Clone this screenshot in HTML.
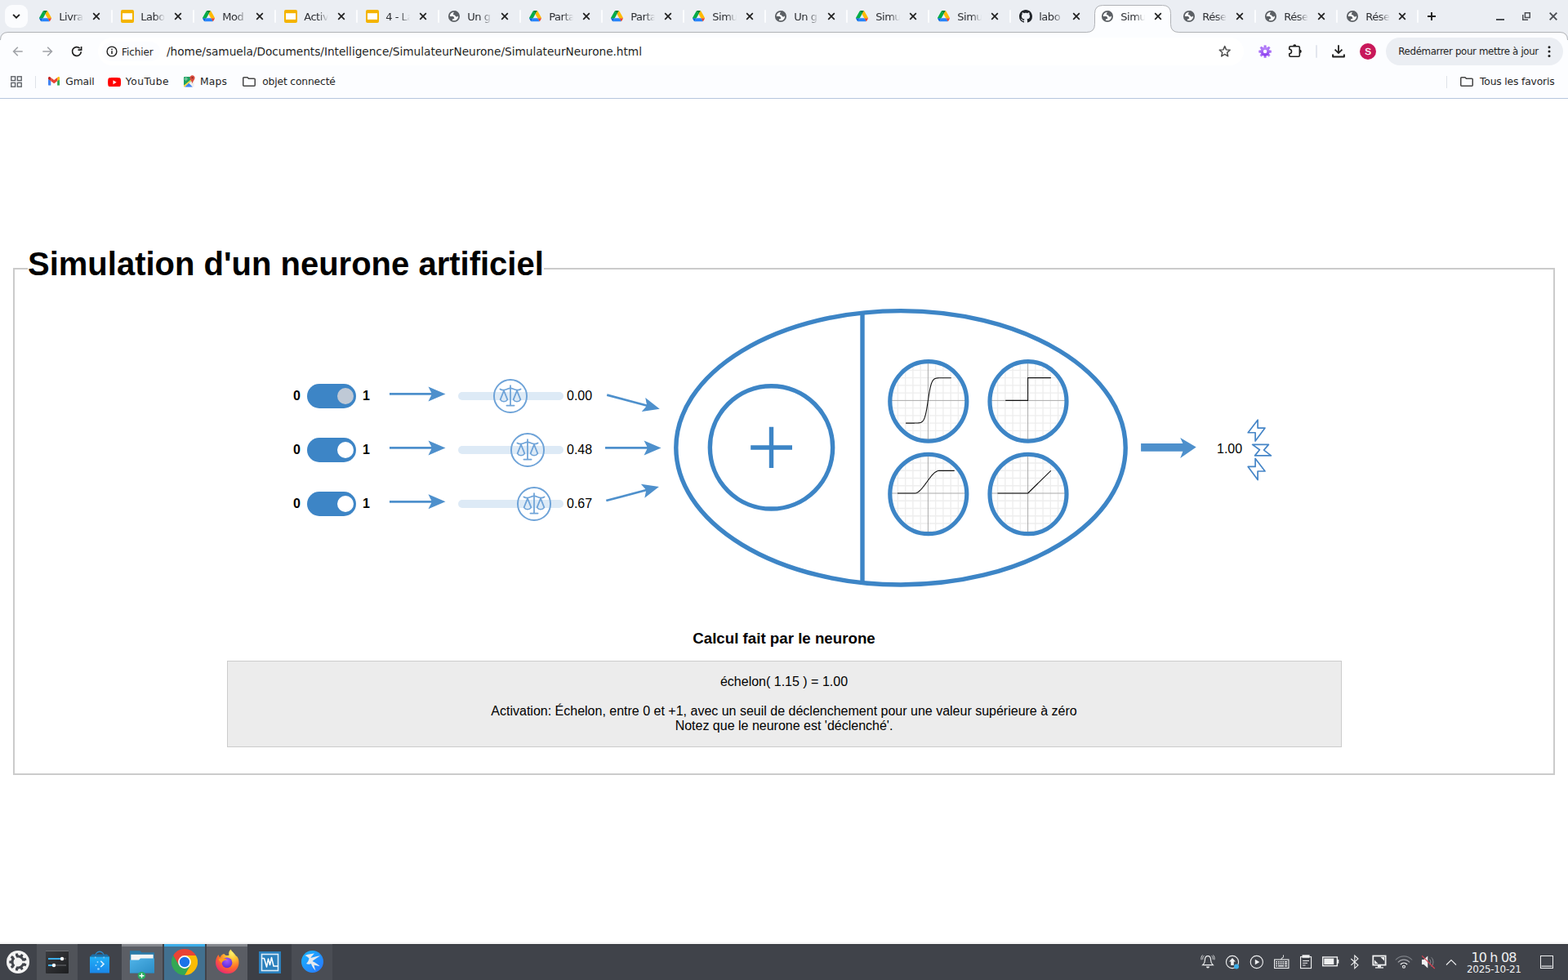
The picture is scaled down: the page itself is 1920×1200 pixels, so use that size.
<!DOCTYPE html>
<html lang="fr">
<head>
<meta charset="utf-8">
<title>Simulateur de neurone</title>
<style>
*{box-sizing:border-box;margin:0;padding:0}
html,body{width:1920px;height:1200px;overflow:hidden;background:#fff}
body{position:relative;font-family:"Liberation Sans",sans-serif;font-size:16px;color:#000}
.abs{position:absolute}
.ui{font-family:"DejaVu Sans","Liberation Sans",sans-serif;color:#1f1f1f;white-space:nowrap}

/* ---------- browser chrome ---------- */
#tabstrip{position:absolute;left:0;top:0;width:1920px;height:40px;background:#ebeef3}
#toolbar{position:absolute;left:0;top:40px;width:1920px;height:44px;background:#fcfdff}
#bookmarks{position:absolute;left:0;top:84px;width:1920px;height:36px;background:#fcfdff}
#chromeline{position:absolute;left:0;top:120px;width:1920px;height:1px;background:#b6c6de}
.tabt{position:absolute;top:12.3px;width:30px;height:18px;overflow:hidden;font-size:13px;line-height:18px;letter-spacing:-0.45px;color:#2d2f33;-webkit-mask-image:linear-gradient(90deg,#000 0,#000 58%,transparent 100%);mask-image:linear-gradient(90deg,#000 0,#000 58%,transparent 100%)}
.bm{position:absolute;top:7.3px;font-size:12.3px;line-height:18px;letter-spacing:-0.15px}

/* ---------- page ---------- */
#fieldset{position:absolute;left:16px;top:328px;width:1888px;height:621px;border:2px solid #cbcbcb}
#legend{position:absolute;left:34px;top:300px;height:46px;width:632px;padding:0;background:#fff;font-weight:bold;font-size:40px;line-height:46px;white-space:nowrap}
#calc-title{position:absolute;left:0;top:771px;width:1920px;text-align:center;font-weight:bold;font-size:18.72px;line-height:22px}
#calc{position:absolute;left:278px;top:809px;width:1365px;height:106px;background:#ececec;border:1px solid #ccc;text-align:center}
#calc p{position:absolute;left:-0.5px;width:100%;line-height:18px;font-size:16px}

/* ---------- diagram ---------- */
.lbl{position:absolute;font-weight:bold;font-size:16px;line-height:18px;white-space:nowrap}
.val{position:absolute;font-size:16px;line-height:18px;white-space:nowrap}
.tog{position:absolute;width:60px;height:30px;border-radius:15px;background:#3d85c6}
.tog span{position:absolute;left:37px;top:5px;width:20px;height:20px;border-radius:50%}
.track{position:absolute;width:129px;height:10px;border-radius:5px;background:#ddeaf6}

/* ---------- taskbar ---------- */
#taskbar{position:absolute;left:0;top:1156px;width:1920px;height:44px;background:#40434a}
</style>
</head>
<body>
<!--CHROME-START-->
<svg width="0" height="0" style="position:absolute"><defs>
<symbol id="i-drive" viewBox="0 0 87.3 78">
<path d="m6.6 66.85 3.85 6.65c.8 1.4 1.95 2.5 3.3 3.3l13.75-23.8h-27.5c0 1.55.4 3.1 1.2 4.5z" fill="#0066da"/>
<path d="m43.65 25-13.75-23.8c-1.35.8-2.5 1.9-3.3 3.3l-25.4 44a9.06 9.06 0 0 0 -1.2 4.5h27.5z" fill="#00ac47"/>
<path d="m73.55 76.8c1.35-.8 2.5-1.9 3.3-3.3l1.6-2.75 7.65-13.25c.8-1.4 1.2-2.95 1.2-4.5h-27.502l5.852 11.5z" fill="#ea4335"/>
<path d="m43.65 25 13.75-23.8c-1.35-.8-2.9-1.2-4.5-1.2h-18.5c-1.6 0-3.15.45-4.5 1.2z" fill="#00832d"/>
<path d="m59.8 53h-32.300l-13.750 23.800c1.350.8 2.900 1.200 4.500 1.200h50.800c1.600 0 3.150-.45 4.500-1.200z" fill="#2684fc"/>
<path d="m73.400 26.500-12.700-22c-.8-1.400-1.950-2.500-3.300-3.300l-13.750 23.800 16.150 28h27.450c0-1.550-.4-3.100-1.200-4.500z" fill="#ffba00"/>
</symbol>
<symbol id="i-slides" viewBox="0 0 16 16">
<rect x="0" y="0" width="16" height="16" rx="2" fill="#f4b400"/>
<rect x="2" y="4.2" width="12" height="7.7" fill="#fff"/>
</symbol>
<symbol id="i-globe" viewBox="0 0 1200 1200">
<circle cx="598" cy="598" r="306" fill="#fcfdff" stroke="#5c6065" stroke-width="92"/>
<path fill="#5c6065" d="M650,262 C600,330 545,400 545,505 L640,520 C670,560 690,605 745,628 C800,640 840,600 872,555 L915,520 C890,380 800,285 650,262 Z"/>
<path fill="#5c6065" d="M305,598 L530,598 C590,618 622,680 612,742 L502,772 L482,895 C400,855 322,760 305,598 Z"/>
</symbol>
<symbol id="i-github" viewBox="0 0 16 16">
<path fill="#1f2328" d="M8 0c4.420 0 8 3.580 8 8a8.013 8.013 0 0 1-5.450 7.590c-.4.080-.55-.17-.55-.38 0-.27.010-1.130.010-2.200 0-.75-.25-1.230-.54-1.480 1.780-.2 3.650-.88 3.650-3.950 0-.88-.31-1.590-.82-2.150.080-.2.360-1.020-.080-2.120 0 0-.67-.22-2.200.82-.64-.18-1.320-.27-2-.27-.68 0-1.360.09-2 .27-1.530-1.030-2.200-.82-2.200-.82-.44 1.100-.16 1.920-.080 2.120-.51.56-.82 1.280-.82 2.150 0 3.060 1.860 3.750 3.640 3.950-.23.2-.44.55-.51 1.070-.46.21-1.610.55-2.330-.66-.15-.24-.6-.83-1.230-.82-.67.010-.27.380.010.530.34.190.73.900.82 1.130.16.450.68 1.310 2.690.94 0 .67.010 1.300.010 1.490 0 .21-.15.450-.55.380A7.995 7.995 0 0 1 0 8c0-4.420 3.580-8 8-8Z"/>
</symbol>
<symbol id="i-x" viewBox="0 0 10 10">
<path d="M1.200 1.200 L8.800 8.800 M8.800 1.200 L1.200 8.800" stroke="#1f1f1f" stroke-width="1.7" fill="none"/>
</symbol>
<symbol id="i-folder" viewBox="0 0 16 12">
<path d="M1.700 0.750 H6 L7.600 2.350 H14.300 Q15.250 2.350 15.250 3.300 V10.300 Q15.250 11.250 14.300 11.250 H1.700 Q0.750 11.250 0.750 10.300 V1.700 Q0.750 0.750 1.700 0.750 Z" fill="none" stroke="#474747" stroke-width="1.5" stroke-linejoin="round"/>
</symbol>
<symbol id="i-gmail" viewBox="52 42 88 66">
<path fill="#4285f4" d="M58 108h14V74L52 59v43c0 3.320 2.690 6 6 6"/>
<path fill="#34a853" d="M120 108h14c3.320 0 6-2.690 6-6V59l-20 15"/>
<path fill="#fbbc04" d="M120 48v26l20-15v-8c0-7.420-8.470-11.650-14.400-7.200"/>
<path fill="#ea4335" d="M72 74V48l24 18 24-18v26L96 92"/>
<path fill="#c5221f" d="M52 51v8l20 15V48l-5.600-4.200c-5.940-4.450-14.400-.22-14.400 7.200"/>
</symbol>
<symbol id="i-youtube" viewBox="0 0 28 20">
<path fill="#ff0000" d="M27.400 3.100c-.3-1.200-1.300-2.200-2.500-2.500C22.700 0 14 0 14 0S5.300 0 3.100.6C1.900.9.9 1.900.6 3.100 0 5.300 0 10 0 10s0 4.700.6 6.900c.3 1.200 1.300 2.200 2.500 2.500C5.300 20 14 20 14 20s8.700 0 10.900-.6c1.200-.3 2.200-1.300 2.500-2.500.6-2.200.6-6.900.6-6.900s0-4.700-.6-6.900z"/>
<path fill="#fff" d="M11.200 14.300 18.500 10l-7.300-4.300z"/>
</symbol>
<symbol id="i-maps" viewBox="0 0 15 15">
<path fill="#f0efed" d="M1 2.500 H13.600 V13.500 Q13.600 14.500 12.600 14.500 H2 Q1 14.500 1 13.500 Z"/>
<path fill="#1da362" d="M1 3 Q1 2 2 2 H9.500 V8 L1 12.800 Z"/>
<path fill="#4285f4" d="M2.200 14.500 L7 9.600 L11.800 14.500 Z"/>
<path fill="#fcd73f" d="M1 12.700 L9.700 5.600 L10.500 6.500 L1.900 14.400 Q1 14.400 1 13.500 Z"/>
<circle cx="3.700" cy="4.700" r="1.300" fill="none" stroke="#fff" stroke-width="0.6"/>
<path fill="#dc4b3e" d="M11.500 0.200 C9.700 0.200 8.400 1.600 8.400 3.300 C8.400 5.600 10.900 7.300 11.500 10.200 C12.100 7.300 14.600 5.600 14.600 3.300 C14.600 1.600 13.300 0.200 11.500 0.200 Z"/>
<circle cx="11.500" cy="3.300" r="1" fill="#7d2b25"/>
</symbol>
</defs></svg>
<div id="tabstrip">
<div class="abs" style="left:6px;top:6px;width:28px;height:28px;border-radius:9px;background:#fbfcfe"></div>
<svg class="abs" style="left:14px;top:14px" width="12" height="12" viewBox="0 0 12 12"><path d="M2.100 3.900 L6 7.700 L9.900 3.900" fill="none" stroke="#1f1f1f" stroke-width="1.9"/></svg>
<svg class="abs" style="left:1320px;top:0" width="140" height="41" viewBox="1320 0 140 41"><path d="M1320,39.500 H1330.500 Q1340.500,39.500 1340.500,29.500 V16.500 Q1340.500,6.500 1350.500,6.500 H1423.500 Q1433.500,6.500 1433.500,16.500 V29.500 Q1433.500,39.500 1443.500,39.500 H1460 V41 H1320 Z" fill="#fcfdff"/><path d="M1320,39.500 H1330.500 Q1340.500,39.500 1340.500,29.500 V16.500 Q1340.500,6.500 1350.500,6.500 H1423.500 Q1433.500,6.500 1433.500,16.500 V29.500 Q1433.500,39.500 1443.500,39.500 H1460" fill="none" stroke="#b0b2b6" stroke-width="1"/></svg>
<svg class="abs" style="left:48.25px;top:13.05px" width="15" height="13.5" ><use href="#i-drive"/></svg>
<div class="ui tabt" style="left:72.2px">Livra</div>
<svg class="abs" style="left:112.90px;top:15.20px" width="10" height="10" ><use href="#i-x"/></svg>
<div class="abs" style="left:135.9px;top:12px;width:2px;height:16px;background:#fbfcfe;border-radius:1px"></div>
<svg class="abs" style="left:148.00px;top:12.00px" width="16" height="16" ><use href="#i-slides"/></svg>
<div class="ui tabt" style="left:172.2px">Labo</div>
<svg class="abs" style="left:212.90px;top:15.20px" width="10" height="10" ><use href="#i-x"/></svg>
<div class="abs" style="left:235.9px;top:12px;width:2px;height:16px;background:#fbfcfe;border-radius:1px"></div>
<svg class="abs" style="left:248.25px;top:13.05px" width="15" height="13.5" ><use href="#i-drive"/></svg>
<div class="ui tabt" style="left:272.2px">Mod</div>
<svg class="abs" style="left:312.90px;top:15.20px" width="10" height="10" ><use href="#i-x"/></svg>
<div class="abs" style="left:335.9px;top:12px;width:2px;height:16px;background:#fbfcfe;border-radius:1px"></div>
<svg class="abs" style="left:348.00px;top:12.00px" width="16" height="16" ><use href="#i-slides"/></svg>
<div class="ui tabt" style="left:372.2px">Activ</div>
<svg class="abs" style="left:412.90px;top:15.20px" width="10" height="10" ><use href="#i-x"/></svg>
<div class="abs" style="left:435.9px;top:12px;width:2px;height:16px;background:#fbfcfe;border-radius:1px"></div>
<svg class="abs" style="left:448.00px;top:12.00px" width="16" height="16" ><use href="#i-slides"/></svg>
<div class="ui tabt" style="left:472.2px">4 - La</div>
<svg class="abs" style="left:512.90px;top:15.20px" width="10" height="10" ><use href="#i-x"/></svg>
<div class="abs" style="left:535.9px;top:12px;width:2px;height:16px;background:#fbfcfe;border-radius:1px"></div>
<svg class="abs" style="left:544.00px;top:8.00px" width="24" height="24" ><use href="#i-globe"/></svg>
<div class="ui tabt" style="left:572.2px">Un g</div>
<svg class="abs" style="left:612.90px;top:15.20px" width="10" height="10" ><use href="#i-x"/></svg>
<div class="abs" style="left:635.9px;top:12px;width:2px;height:16px;background:#fbfcfe;border-radius:1px"></div>
<svg class="abs" style="left:648.25px;top:13.05px" width="15" height="13.5" ><use href="#i-drive"/></svg>
<div class="ui tabt" style="left:672.2px">Parta</div>
<svg class="abs" style="left:712.90px;top:15.20px" width="10" height="10" ><use href="#i-x"/></svg>
<div class="abs" style="left:735.9px;top:12px;width:2px;height:16px;background:#fbfcfe;border-radius:1px"></div>
<svg class="abs" style="left:748.25px;top:13.05px" width="15" height="13.5" ><use href="#i-drive"/></svg>
<div class="ui tabt" style="left:772.2px">Parta</div>
<svg class="abs" style="left:812.90px;top:15.20px" width="10" height="10" ><use href="#i-x"/></svg>
<div class="abs" style="left:835.9px;top:12px;width:2px;height:16px;background:#fbfcfe;border-radius:1px"></div>
<svg class="abs" style="left:848.25px;top:13.05px" width="15" height="13.5" ><use href="#i-drive"/></svg>
<div class="ui tabt" style="left:872.2px">Simu</div>
<svg class="abs" style="left:912.90px;top:15.20px" width="10" height="10" ><use href="#i-x"/></svg>
<div class="abs" style="left:935.9px;top:12px;width:2px;height:16px;background:#fbfcfe;border-radius:1px"></div>
<svg class="abs" style="left:944.00px;top:8.00px" width="24" height="24" ><use href="#i-globe"/></svg>
<div class="ui tabt" style="left:972.2px">Un g</div>
<svg class="abs" style="left:1012.90px;top:15.20px" width="10" height="10" ><use href="#i-x"/></svg>
<div class="abs" style="left:1035.9px;top:12px;width:2px;height:16px;background:#fbfcfe;border-radius:1px"></div>
<svg class="abs" style="left:1048.25px;top:13.05px" width="15" height="13.5" ><use href="#i-drive"/></svg>
<div class="ui tabt" style="left:1072.2px">Simu</div>
<svg class="abs" style="left:1112.90px;top:15.20px" width="10" height="10" ><use href="#i-x"/></svg>
<div class="abs" style="left:1135.9px;top:12px;width:2px;height:16px;background:#fbfcfe;border-radius:1px"></div>
<svg class="abs" style="left:1148.25px;top:13.05px" width="15" height="13.5" ><use href="#i-drive"/></svg>
<div class="ui tabt" style="left:1172.2px">Simu</div>
<svg class="abs" style="left:1212.90px;top:15.20px" width="10" height="10" ><use href="#i-x"/></svg>
<div class="abs" style="left:1235.9px;top:12px;width:2px;height:16px;background:#fbfcfe;border-radius:1px"></div>
<svg class="abs" style="left:1248.00px;top:12.00px" width="16" height="16" ><use href="#i-github"/></svg>
<div class="ui tabt" style="left:1272.2px">labo</div>
<svg class="abs" style="left:1312.90px;top:15.20px" width="10" height="10" ><use href="#i-x"/></svg>
<svg class="abs" style="left:1344.00px;top:8.00px" width="24" height="24" ><use href="#i-globe"/></svg>
<div class="ui tabt" style="left:1372.2px">Simu</div>
<svg class="abs" style="left:1412.90px;top:15.20px" width="10" height="10" ><use href="#i-x"/></svg>
<svg class="abs" style="left:1444.00px;top:8.00px" width="24" height="24" ><use href="#i-globe"/></svg>
<div class="ui tabt" style="left:1472.2px">Rése</div>
<svg class="abs" style="left:1512.90px;top:15.20px" width="10" height="10" ><use href="#i-x"/></svg>
<div class="abs" style="left:1535.9px;top:12px;width:2px;height:16px;background:#fbfcfe;border-radius:1px"></div>
<svg class="abs" style="left:1544.00px;top:8.00px" width="24" height="24" ><use href="#i-globe"/></svg>
<div class="ui tabt" style="left:1572.2px">Rése</div>
<svg class="abs" style="left:1612.90px;top:15.20px" width="10" height="10" ><use href="#i-x"/></svg>
<div class="abs" style="left:1635.9px;top:12px;width:2px;height:16px;background:#fbfcfe;border-radius:1px"></div>
<svg class="abs" style="left:1644.00px;top:8.00px" width="24" height="24" ><use href="#i-globe"/></svg>
<div class="ui tabt" style="left:1672.2px">Rése</div>
<svg class="abs" style="left:1711.90px;top:15.20px" width="10" height="10" ><use href="#i-x"/></svg>
<div class="abs" style="left:1734.8px;top:12px;width:2px;height:16px;background:#fbfcfe;border-radius:1px"></div>
<svg class="abs" style="left:1747px;top:14px" width="12" height="12" viewBox="0 0 12 12"><path d="M6 1 V11 M1 6 H11" stroke="#1f1f1f" stroke-width="1.9" fill="none"/></svg>
<div class="abs" style="left:1832px;top:23px;width:10px;height:2px;background:#4a4d52"></div>
<svg class="abs" style="left:1864px;top:15px" width="10" height="10" viewBox="0 0 10 10"><path d="M3.400 0.750 H9.250 V6.600 H3.400 Z M0.750 3 V9.250 H7" fill="none" stroke="#4a4d52" stroke-width="1.500"/></svg>
<svg class="abs" style="left:1897px;top:15px" width="10" height="10" viewBox="0 0 10 10"><path d="M0.700 0.700 L9.300 9.300 M9.300 0.700 L0.700 9.300" stroke="#4a4d52" stroke-width="1.900" fill="none"/></svg>
</div>
<div id="toolbar">
<svg class="abs" style="left:0;top:-1px" width="1920" height="12" viewBox="0 0 1920 12"><path d="M0,0 H12 Q1,0.500 0,12 Z" fill="#ebeef3"/><path d="M1920,0 H1908 Q1919,0.500 1920,12 Z" fill="#ebeef3"/><path d="M0.500,10 Q0.500,0.500 10,0.500 H1330.500" fill="none" stroke="#b0b2b6"/><path d="M1443.500,0.500 H1910 Q1919.500,0.500 1919.500,10" fill="none" stroke="#b0b2b6"/></svg>
<svg class="abs" style="left:15px;top:16px" width="14" height="14" viewBox="0 0 14 14"><path d="M12.700 7 H2 M6.800 1.800 L1.600 7 L6.800 12.200" fill="none" stroke="#a0a3a8" stroke-width="1.600"/></svg>
<svg class="abs" style="left:51px;top:16px" width="14" height="14" viewBox="0 0 14 14"><path d="M1.300 7 H12 M7.200 1.800 L12.400 7 L7.200 12.200" fill="none" stroke="#a0a3a8" stroke-width="1.600"/></svg>
<svg class="abs" style="left:86px;top:15px" width="16" height="16" viewBox="0 0 16 16"><path d="M13.300 8.200 A5.400 5.400 0 1 1 11.700 4.100" fill="none" stroke="#1f1f1f" stroke-width="1.700"/><path d="M13.600 2 V6.100 H9.500" fill="none" stroke="#1f1f1f" stroke-width="1.700"/></svg>
<div class="abs" style="left:120px;top:6px;width:1403px;height:34px;border-radius:17px;background:#fff"></div>
<div class="abs" style="left:125px;top:11px;width:71px;height:24px;border-radius:12px;background:#fcfdff"></div>
<svg class="abs" style="left:129.900px;top:16px" width="14" height="14" viewBox="0 0 14 14"><circle cx="7" cy="7" r="5.900" fill="none" stroke="#1f1f1f" stroke-width="1.400"/><path d="M7 6.200 V10" stroke="#1f1f1f" stroke-width="1.500"/><circle cx="7" cy="4.300" r="0.900" fill="#1f1f1f"/></svg>
<div class="ui" style="position:absolute;left:149px;top:15.800px;font-size:12px;line-height:16px;letter-spacing:-0.100px">Fichier</div>
<div class="ui" style="position:absolute;left:204px;top:14px;font-size:13.700px;line-height:18px;letter-spacing:-0.022px">/home/samuela/Documents/Intelligence/SimulateurNeurone/SimulateurNeurone.html</div>
<svg class="abs" style="left:1490.700px;top:14.200px" width="17.400" height="17.400" viewBox="0 0 24 24"><path d="M12 3.600 L14.500 9.500 L20.900 10.050 L16.050 14.250 L17.500 20.500 L12 17.200 L6.500 20.500 L7.950 14.250 L3.100 10.050 L9.500 9.500 Z" fill="none" stroke="#4d4d4d" stroke-width="2.050" stroke-linejoin="round"/></svg>
<svg class="abs" style="left:1540.900px;top:14.800px" width="16.200" height="16.200" viewBox="-8.100 -8.100 16.200 16.200"><defs><linearGradient id="gg" x1="0" y1="0" x2="0" y2="1"><stop offset="0" stop-color="#bd90fa"/><stop offset="1" stop-color="#8a3bef"/></linearGradient></defs><g fill="url(#gg)"><rect x="-1.550" y="-7.950" width="3.100" height="4.500" rx="0.700" transform="rotate(0)"/><rect x="-1.550" y="-7.950" width="3.100" height="4.500" rx="0.700" transform="rotate(45)"/><rect x="-1.550" y="-7.950" width="3.100" height="4.500" rx="0.700" transform="rotate(90)"/><rect x="-1.550" y="-7.950" width="3.100" height="4.500" rx="0.700" transform="rotate(135)"/><rect x="-1.550" y="-7.950" width="3.100" height="4.500" rx="0.700" transform="rotate(180)"/><rect x="-1.550" y="-7.950" width="3.100" height="4.500" rx="0.700" transform="rotate(225)"/><rect x="-1.550" y="-7.950" width="3.100" height="4.500" rx="0.700" transform="rotate(270)"/><rect x="-1.550" y="-7.950" width="3.100" height="4.500" rx="0.700" transform="rotate(315)"/><circle r="5.500"/></g><circle r="2.250" fill="#fff"/></svg>
<svg class="abs" style="left:1570px;top:8px" width="30" height="30" viewBox="0 0 30 30"><path d="M8.750,12.200 V10.300 Q8.750,8.750 10.300,8.750 H19.800 Q21.350,8.750 21.350,10.300 V19.700 Q21.350,21.250 19.800,21.250 H10.300 Q8.750,21.250 8.750,19.700 V17.700 C12.400,17.400 12.400,12.500 8.750,12.200 Z" fill="none" stroke="#1f1f1f" stroke-width="1.600" stroke-linejoin="round"/><path d="M13.200,8.500 A2.050,2.300 0 0 1 17.300,8.500 Z M21.500,12.850 A2.300,2.050 0 0 1 21.500,16.950 Z" fill="#1f1f1f"/></svg>
<div class="abs" style="left:1611px;top:15px;width:2px;height:16px;background:#e3e6ee;border-radius:1px"></div>
<svg class="abs" style="left:1631px;top:15px" width="16" height="16" viewBox="0 0 16 16"><path d="M8 0.200 V9.800 M3.600 5.700 L8 10.100 L12.400 5.700" fill="none" stroke="#1f1f1f" stroke-width="1.800"/><path d="M1.100 11.400 V14.600 H14.900 V11.400" fill="none" stroke="#1f1f1f" stroke-width="2" stroke-linejoin="round"/></svg>
<div class="abs" style="left:1665px;top:13px;width:20px;height:20px;border-radius:50%;background:#c8185a;color:#fff;font:11.500px/20px 'Liberation Sans',sans-serif;text-align:center;-webkit-text-stroke:0.350px #fff">S</div>
<div class="abs" style="left:1697px;top:6px;width:217px;height:34px;border-radius:17px;background:#ebeef3"></div>
<div class="ui" style="position:absolute;left:1712.300px;top:14.800px;font-size:11.800px;line-height:16px;letter-spacing:-0.350px">Redémarrer pour mettre à jour</div>
<svg class="abs" style="left:1894px;top:15px" width="6" height="16" viewBox="0 0 6 16"><circle cx="3" cy="2.700" r="1.500" fill="#1f1f1f"/><circle cx="3" cy="8.100" r="1.500" fill="#1f1f1f"/><circle cx="3" cy="13.500" r="1.500" fill="#1f1f1f"/></svg>
</div>
<div id="bookmarks">
<svg class="abs" style="left:13px;top:9px" width="14" height="14" viewBox="0 0 14 14"><g fill="none" stroke="#5f6368" stroke-width="1.400"><rect x="0.800" y="0.800" width="4.800" height="4.800"/><rect x="8.400" y="0.800" width="4.800" height="4.800"/><rect x="0.800" y="8.400" width="4.800" height="4.800"/><rect x="8.400" y="8.400" width="4.800" height="4.800"/></g></svg>
<div class="abs" style="left:42.500px;top:8.500px;width:1px;height:15px;background:#dfe2e8"></div>
<svg class="abs" style="left:58.80px;top:10.40px" width="14.4" height="10.8" ><use href="#i-gmail"/></svg>
<div class="ui bm" style="left:80.300px;letter-spacing:-0.100px">Gmail</div>
<svg class="abs" style="left:131.90px;top:10.70px" width="16.2" height="11.4" ><use href="#i-youtube"/></svg>
<div class="ui bm" style="left:153.800px;letter-spacing:0.480px">YouTube</div>
<svg class="abs" style="left:224.00px;top:7.50px" width="15" height="15" ><use href="#i-maps"/></svg>
<div class="ui bm" style="left:245px;letter-spacing:0.150px">Maps</div>
<svg class="abs" style="left:297.00px;top:9.90px" width="16" height="12" ><use href="#i-folder"/></svg>
<div class="ui bm" style="left:321.200px">objet connecté</div>
<div class="abs" style="left:1770.500px;top:8.500px;width:1px;height:15px;background:#dfe2e8"></div>
<svg class="abs" style="left:1788.00px;top:9.90px" width="16" height="12" ><use href="#i-folder"/></svg>
<div class="ui bm" style="left:1812px">Tous les favoris</div>
</div>
<div id="chromeline"></div>
<!--CHROME-END-->

<!--PAGE-START-->
<div id="fieldset"></div>
<div id="legend">Simulation d'un neurone artificiel</div>
<!--DIAGRAM-->
<div class="lbl" style="left:358.9px;top:475.5px">0</div>
<div class="tog" style="left:376px;top:470px"><span style="background:#bfc9d6"></span></div>
<div class="lbl" style="left:444px;top:475.5px">1</div>
<div class="track" style="left:561px;top:480px"></div>
<div class="val" style="left:694px;top:475.5px">0.00</div>
<div class="lbl" style="left:358.9px;top:541.5px">0</div>
<div class="tog" style="left:376px;top:536px"><span style="background:#ffffff"></span></div>
<div class="lbl" style="left:444px;top:541.5px">1</div>
<div class="track" style="left:561px;top:546px"></div>
<div class="val" style="left:694px;top:541.5px">0.48</div>
<div class="lbl" style="left:358.9px;top:607.5px">0</div>
<div class="tog" style="left:376px;top:602px"><span style="background:#ffffff"></span></div>
<div class="lbl" style="left:444px;top:607.5px">1</div>
<div class="track" style="left:561px;top:612px"></div>
<div class="val" style="left:694px;top:607.5px">0.67</div>
<div class="val" style="left:1490px;top:540.5px">1.00</div>
<svg class="abs" style="left:0;top:0" width="1920" height="1200" viewBox="0 0 1920 1200">
<defs>
<path id="arw" d="M-34.25,-1.4 H17.05 L13.25,-9 L34.25,0 L13.25,9 L17.05,1.4 H-34.25 Z" fill="#4e90cc"/>
<g id="thumb" fill="none" stroke="#6ea3d8" stroke-linecap="round" stroke-linejoin="round"><circle r="20.05" stroke-width="1.95"/><g stroke-width="1.75"><path d="M0,-12.8 V11.5 M-4.6,11.6 H4.6"/><path d="M-12.6,-8.6 C-9.5,-6.6 -6.5,-7.4 -3.5,-8.8 C-1.5,-9.7 1.5,-9.7 3.5,-8.8 C6.5,-7.4 9.5,-6.6 12.6,-8.6"/><path d="M-8,-6.6 L-12.4,4.4 C-10.5,7.4 -5.5,7.4 -3.6,4.4 Z"/><path d="M8,-6.6 L12.4,4.4 C10.5,7.4 5.5,7.4 3.6,4.4 Z"/></g></g>
</defs>
<use href="#arw" transform="translate(511.2,482.45)"/>
<use href="#arw" transform="translate(511.2,548.45)"/>
<use href="#arw" transform="translate(511.2,614.35)"/>
<use href="#arw" transform="translate(775.5,492.2) rotate(14.9) scale(0.975)"/>
<use href="#arw" transform="translate(775.3,548.45)"/>
<use href="#arw" transform="translate(774.6,604.5) rotate(-14.8) scale(0.975)"/>
<use href="#thumb" transform="translate(625,485)"/>
<use href="#thumb" transform="translate(646,551)"/>
<use href="#thumb" transform="translate(654,617)"/>
<g fill="none" stroke="#3d85c6" stroke-width="5.4">
<ellipse cx="1103" cy="548.3" rx="275.2" ry="167.7"/>
<path d="M1056,383.06 V713.54"/>
<circle cx="944.5" cy="547.9" r="75.15"/>
<path d="M919.2,548 H970 M944.5,522.8 V573"/>
</g>
<clipPath id="c1"><ellipse cx="1136.8" cy="491.4" rx="47.0" ry="48.699999999999996"/></clipPath>
<g clip-path="url(#c1)">
<path d="M1080.90,431.4 V551.4 M1076.8,434.90 H1196.8 M1090.15,431.4 V551.4 M1076.8,444.15 H1196.8 M1099.40,431.4 V551.4 M1076.8,453.40 H1196.8 M1108.65,431.4 V551.4 M1076.8,462.65 H1196.8 M1117.90,431.4 V551.4 M1076.8,471.90 H1196.8 M1127.15,431.4 V551.4 M1076.8,481.15 H1196.8 M1145.65,431.4 V551.4 M1076.8,499.65 H1196.8 M1154.90,431.4 V551.4 M1076.8,508.90 H1196.8 M1164.15,431.4 V551.4 M1076.8,518.15 H1196.8 M1173.40,431.4 V551.4 M1076.8,527.40 H1196.8 M1182.65,431.4 V551.4 M1076.8,536.65 H1196.8 M1191.90,431.4 V551.4 M1076.8,545.90 H1196.8 " stroke="#eeeeee" stroke-width="1.4" fill="none"/>
<path d="M1136.40,431.4 V551.4 M1076.8,490.40 H1196.8" stroke="#aaaaaa" stroke-width="1" fill="none"/>
<path d="M1109.10,518.10 L1109.79,518.10 L1110.49,518.10 L1111.18,518.10 L1111.88,518.10 L1112.57,518.10 L1113.27,518.10 L1113.96,518.10 L1114.66,518.10 L1115.35,518.10 L1116.05,518.10 L1116.74,518.10 L1117.44,518.09 L1118.13,518.09 L1118.83,518.09 L1119.52,518.08 L1120.22,518.07 L1120.91,518.06 L1121.61,518.05 L1122.30,518.03 L1123.00,518.01 L1123.69,517.97 L1124.39,517.92 L1125.08,517.85 L1125.78,517.75 L1126.47,517.61 L1127.17,517.42 L1127.86,517.16 L1128.56,516.80 L1129.25,516.31 L1129.95,515.64 L1130.64,514.73 L1131.34,513.52 L1132.03,511.93 L1132.73,509.87 L1133.42,507.27 L1134.12,504.10 L1134.81,500.37 L1135.51,496.18 L1136.20,491.68 L1136.90,487.12 L1137.59,482.73 L1138.29,478.72 L1138.98,475.23 L1139.68,472.32 L1140.37,469.97 L1141.07,468.12 L1141.76,466.70 L1142.46,465.64 L1143.15,464.84 L1143.85,464.26 L1144.54,463.83 L1145.24,463.51 L1145.93,463.29 L1146.63,463.12 L1147.32,463.00 L1148.02,462.92 L1148.71,462.86 L1149.41,462.81 L1150.10,462.78 L1150.80,462.76 L1151.49,462.74 L1152.19,462.73 L1152.88,462.72 L1153.58,462.72 L1154.27,462.71 L1154.97,462.71 L1155.66,462.71 L1156.36,462.70 L1157.05,462.70 L1157.75,462.70 L1158.44,462.70 L1159.14,462.70 L1159.83,462.70 L1160.53,462.70 L1161.22,462.70 L1161.92,462.70 L1162.61,462.70 L1163.31,462.70 L1164.00,462.70 L1164.70,462.70" stroke="#111" stroke-width="1.1" fill="none" stroke-linejoin="round"/>
</g>
<ellipse cx="1136.8" cy="491.4" rx="47.0" ry="48.699999999999996" fill="none" stroke="#3d85c6" stroke-width="5.2"/>
<clipPath id="c2"><ellipse cx="1259.0" cy="491.4" rx="47.0" ry="48.699999999999996"/></clipPath>
<g clip-path="url(#c2)">
<path d="M1203.10,431.4 V551.4 M1199.0,434.90 H1319.0 M1212.35,431.4 V551.4 M1199.0,444.15 H1319.0 M1221.60,431.4 V551.4 M1199.0,453.40 H1319.0 M1230.85,431.4 V551.4 M1199.0,462.65 H1319.0 M1240.10,431.4 V551.4 M1199.0,471.90 H1319.0 M1249.35,431.4 V551.4 M1199.0,481.15 H1319.0 M1267.85,431.4 V551.4 M1199.0,499.65 H1319.0 M1277.10,431.4 V551.4 M1199.0,508.90 H1319.0 M1286.35,431.4 V551.4 M1199.0,518.15 H1319.0 M1295.60,431.4 V551.4 M1199.0,527.40 H1319.0 M1304.85,431.4 V551.4 M1199.0,536.65 H1319.0 M1314.10,431.4 V551.4 M1199.0,545.90 H1319.0 " stroke="#eeeeee" stroke-width="1.4" fill="none"/>
<path d="M1258.60,431.4 V551.4 M1199.0,490.40 H1319.0" stroke="#aaaaaa" stroke-width="1" fill="none"/>
<path d="M1231.1999999999998,490.4 H1258.6 V462.59999999999997 H1286.8" stroke="#111" stroke-width="1.1" fill="none" stroke-linejoin="round"/>
</g>
<ellipse cx="1259.0" cy="491.4" rx="47.0" ry="48.699999999999996" fill="none" stroke="#3d85c6" stroke-width="5.2"/>
<clipPath id="c3"><ellipse cx="1136.8" cy="605.0" rx="47.0" ry="48.699999999999996"/></clipPath>
<g clip-path="url(#c3)">
<path d="M1080.90,545.0 V665.0 M1076.8,548.50 H1196.8 M1090.15,545.0 V665.0 M1076.8,557.75 H1196.8 M1099.40,545.0 V665.0 M1076.8,567.00 H1196.8 M1108.65,545.0 V665.0 M1076.8,576.25 H1196.8 M1117.90,545.0 V665.0 M1076.8,585.50 H1196.8 M1127.15,545.0 V665.0 M1076.8,594.75 H1196.8 M1145.65,545.0 V665.0 M1076.8,613.25 H1196.8 M1154.90,545.0 V665.0 M1076.8,622.50 H1196.8 M1164.15,545.0 V665.0 M1076.8,631.75 H1196.8 M1173.40,545.0 V665.0 M1076.8,641.00 H1196.8 M1182.65,545.0 V665.0 M1076.8,650.25 H1196.8 M1191.90,545.0 V665.0 M1076.8,659.50 H1196.8 " stroke="#eeeeee" stroke-width="1.4" fill="none"/>
<path d="M1136.40,545.0 V665.0 M1076.8,604.00 H1196.8" stroke="#aaaaaa" stroke-width="1" fill="none"/>
<path d="M1099.00,604.00 L1099.87,604.00 L1100.74,604.00 L1101.61,604.00 L1102.48,604.00 L1103.36,604.00 L1104.23,604.00 L1105.10,604.00 L1105.97,604.00 L1106.84,604.00 L1107.71,604.00 L1108.58,604.00 L1109.45,604.00 L1110.33,604.00 L1111.20,604.00 L1112.07,604.00 L1112.94,604.00 L1113.81,604.00 L1114.68,604.00 L1115.55,604.00 L1116.42,604.00 L1117.30,604.00 L1118.17,604.00 L1119.04,604.00 L1119.91,604.00 L1120.78,603.93 L1121.65,603.73 L1122.52,603.40 L1123.39,602.96 L1124.27,602.42 L1125.14,601.77 L1126.01,601.03 L1126.88,600.21 L1127.75,599.32 L1128.62,598.36 L1129.49,597.34 L1130.36,596.27 L1131.24,595.16 L1132.11,594.01 L1132.98,592.84 L1133.85,591.65 L1134.72,590.45 L1135.59,589.25 L1136.46,588.05 L1137.33,586.87 L1138.21,585.71 L1139.08,584.58 L1139.95,583.50 L1140.82,582.45 L1141.69,581.47 L1142.56,580.55 L1143.43,579.69 L1144.30,578.92 L1145.18,578.24 L1146.05,577.65 L1146.92,577.16 L1147.79,576.79 L1148.66,576.54 L1149.53,576.41 L1150.40,576.40 L1151.27,576.40 L1152.15,576.40 L1153.02,576.40 L1153.89,576.40 L1154.76,576.40 L1155.63,576.40 L1156.50,576.40 L1157.37,576.40 L1158.24,576.40 L1159.12,576.40 L1159.99,576.40 L1160.86,576.40 L1161.73,576.40 L1162.60,576.40 L1163.47,576.40 L1164.34,576.40 L1165.21,576.40 L1166.09,576.40 L1166.96,576.40 L1167.83,576.40 L1168.70,576.40" stroke="#111" stroke-width="1.1" fill="none" stroke-linejoin="round"/>
</g>
<ellipse cx="1136.8" cy="605.0" rx="47.0" ry="48.699999999999996" fill="none" stroke="#3d85c6" stroke-width="5.2"/>
<clipPath id="c4"><ellipse cx="1259.0" cy="605.0" rx="47.0" ry="48.699999999999996"/></clipPath>
<g clip-path="url(#c4)">
<path d="M1203.10,545.0 V665.0 M1199.0,548.50 H1319.0 M1212.35,545.0 V665.0 M1199.0,557.75 H1319.0 M1221.60,545.0 V665.0 M1199.0,567.00 H1319.0 M1230.85,545.0 V665.0 M1199.0,576.25 H1319.0 M1240.10,545.0 V665.0 M1199.0,585.50 H1319.0 M1249.35,545.0 V665.0 M1199.0,594.75 H1319.0 M1267.85,545.0 V665.0 M1199.0,613.25 H1319.0 M1277.10,545.0 V665.0 M1199.0,622.50 H1319.0 M1286.35,545.0 V665.0 M1199.0,631.75 H1319.0 M1295.60,545.0 V665.0 M1199.0,641.00 H1319.0 M1304.85,545.0 V665.0 M1199.0,650.25 H1319.0 M1314.10,545.0 V665.0 M1199.0,659.50 H1319.0 " stroke="#eeeeee" stroke-width="1.4" fill="none"/>
<path d="M1258.60,545.0 V665.0 M1199.0,604.00 H1319.0" stroke="#aaaaaa" stroke-width="1" fill="none"/>
<path d="M1221.5,604.0 H1258.6 L1286.8,576.4" stroke="#111" stroke-width="1.1" fill="none" stroke-linejoin="round"/>
</g>
<ellipse cx="1259.0" cy="605.0" rx="47.0" ry="48.699999999999996" fill="none" stroke="#3d85c6" stroke-width="5.2"/>
<path d="M1397.1,543 H1448.4 L1445.2,536 L1464.7,547.6 L1445.2,561 L1448.4,552.8 H1397.1 Z" fill="#4e90cc"/>
<g fill="none" stroke="#4585c7" stroke-width="1.7" stroke-linejoin="round">
<path d="M1540.1,514.2 V524.1 H1549 L1537.1,540 V529.75 H1528.2 Z"/>
<path d="M1533.6,544.4 H1553.4 L1547.6,551.1 L1556.4,557.9 H1536.6 L1542.4,550.75 Z"/>
<path d="M1537.1,561.5 V571.4 H1528.2 L1540.1,587.6 V577 H1549 Z"/>
</g>
</svg>
<!--/DIAGRAM-->
<div id="calc-title">Calcul fait par le neurone</div>
<div id="calc">
  <p style="top:16px">échelon( 1.15 ) = 1.00</p>
  <p style="top:52px">Activation: Échelon, entre 0 et +1, avec un seuil de déclenchement pour une valeur supérieure à zéro</p>
  <p style="top:70px">Notez que le neurone est 'déclenché'.</p>
</div>
<!--PAGE-END-->

<!--TASKBAR-START-->
<div id="taskbar">
<div class="abs" style="left:0;top:-3px;width:1920px;height:3px;background:linear-gradient(180deg,rgba(0,0,0,0),rgba(0,0,0,0.07))"></div>
<div class="abs" style="left:0;top:0;width:1920px;height:1px;background:#33363c"></div>
<div class="abs" style="left:45px;top:0;width:50px;height:44px;background:#505359"></div>
<div class="abs" style="left:149px;top:0;width:50px;height:44px;background:#5b5e65"></div>
<div class="abs" style="left:149px;top:0;width:50px;height:3px;background:#85888e"></div>
<div class="abs" style="left:201px;top:0;width:50px;height:44px;background:#42708f"></div>
<div class="abs" style="left:201px;top:0;width:50px;height:3px;background:#3daee9"></div>
<div class="abs" style="left:253px;top:0;width:50px;height:44px;background:#5a5d64"></div>
<div class="abs" style="left:253px;top:0;width:50px;height:3px;background:#85888e"></div>
<div class="abs" style="left:303px;top:0;width:54px;height:44px;background:#3c3f46"></div>
<div class="abs" style="left:357px;top:0;width:50px;height:44px;background:#4a4d54"></div>
<svg class="abs" style="left:8px;top:8px" width="28" height="28" viewBox="-14 -14 28 28"><circle r="14" fill="#f3f3f3"/><path d="M-4.68,5.20 A7,7 0 0 1 -4.68,-5.20" fill="none" stroke="#43464d" stroke-width="3"/><path d="M-4.62,5.91 L-7.37,7.90 L-9.26,5.56 L-6.74,3.29 Z" fill="#43464d"/><path d="M-7.31,1.69 L-10.69,1.50 L-10.69,-1.50 L-7.31,-1.69 Z" fill="#43464d"/><path d="M-6.74,-3.29 L-9.26,-5.56 L-7.37,-7.90 L-4.62,-5.91 Z" fill="#43464d"/><path d="M-2.16,-6.66 A7,7 0 0 1 6.85,-1.46" fill="none" stroke="#43464d" stroke-width="3"/><path d="M-2.81,-6.95 L-3.16,-10.33 L-0.19,-10.80 L0.52,-7.48 Z" fill="#43464d"/><path d="M2.19,-7.17 L4.05,-10.01 L6.65,-8.51 L5.11,-5.49 Z" fill="#43464d"/><path d="M6.22,-4.19 L9.45,-5.24 L10.52,-2.43 L7.43,-1.04 Z" fill="#43464d"/><path d="M6.85,1.46 A7,7 0 0 1 -2.16,6.66" fill="none" stroke="#43464d" stroke-width="3"/><path d="M7.43,1.04 L10.52,2.43 L9.45,5.24 L6.22,4.19 Z" fill="#43464d"/><path d="M5.11,5.49 L6.65,8.51 L4.05,10.01 L2.19,7.17 Z" fill="#43464d"/><path d="M0.52,7.48 L-0.19,10.80 L-3.16,10.33 L-2.81,6.95 Z" fill="#43464d"/></svg>
<svg class="abs" style="left:56px;top:8px" width="28" height="28" viewBox="0 0 28 28"><defs><linearGradient id="ss" x1="0" y1="0" x2="1" y2="1"><stop offset="0" stop-color="#3a3c40"/><stop offset="1" stop-color="#1d1e20"/></linearGradient></defs><rect width="28" height="28" rx="1" fill="url(#ss)"/><rect width="28" height="1" fill="#6b6d71"/><rect x="3" y="9" width="22" height="2" fill="#4a4c50"/><rect x="3" y="17" width="22" height="2" fill="#4a4c50"/><rect x="3" y="9" width="17" height="2" fill="#3daee9"/><rect x="3" y="17" width="7" height="2" fill="#3daee9"/><circle cx="20" cy="10" r="2.200" fill="#fcfcfc"/><circle cx="10" cy="18" r="2.200" fill="#fcfcfc"/></svg>
<svg class="abs" style="left:109px;top:7px" width="26" height="29" viewBox="0 0 26 29"><defs><linearGradient id="dg" x1="0" y1="0" x2="0" y2="1"><stop offset="0" stop-color="#21b0f7"/><stop offset="1" stop-color="#1a86e8"/></linearGradient></defs><path d="M7.500,9 C7.500,0 18.500,0 18.500,9" fill="none" stroke="#2a8fd4" stroke-width="1.300"/><path d="M1,8.500 L4,5.500 H22 L25,8.500 Z" fill="#1c6fa8"/><rect x="1" y="8.500" width="24" height="20" fill="url(#dg)"/><path d="M14.300,13.800 L18,17.400 L14.300,21" fill="none" stroke="#dff2ff" stroke-width="1.600"/><circle cx="10.500" cy="15" r="0.900" fill="#9fd8ff"/><circle cx="8.500" cy="19" r="0.900" fill="#9fd8ff"/><circle cx="11.500" cy="23.500" r="1.300" fill="#9fd8ff"/><rect x="7" y="8.700" width="1.600" height="1.600" fill="#8cc4ea"/><rect x="17.400" y="8.700" width="1.600" height="1.600" fill="#8cc4ea"/></svg>
<svg class="abs" style="left:158px;top:7px" width="32" height="38" viewBox="0 0 32 38"><defs><linearGradient id="fg" x1="0" y1="0" x2="1" y2="1"><stop offset="0" stop-color="#4fb3e8"/><stop offset="1" stop-color="#2b8dc6"/></linearGradient></defs><path d="M1,1.200 H13.500 L15.500,3.200 H31 V28.500 H1 Z" fill="#2a7aa8"/><rect x="2.300" y="5.800" width="27.400" height="8" fill="#f4f4f4"/><path d="M1,12.500 H12 L14,10.500 H31 V28.500 H1 Z" fill="url(#fg)"/><circle cx="15.500" cy="31.700" r="4.800" fill="#27ae60"/><path d="M15.500,28.800 V34.600 M12.600,31.700 H18.400" stroke="#fff" stroke-width="1.400"/></svg>
<svg class="abs" style="left:210px;top:5.800px" width="32" height="32" viewBox="-16 -16 32 32"><path d="M0,-8 L13.860,-8 A16,16 0 0 0 -13.860,-8 L-6.930,4 Z" fill="#ea4335"/><path d="M0,-8 L13.860,-8 A16,16 0 0 0 -13.860,-8 L-6.930,4 Z" fill="#fbbc04" transform="rotate(120)"/><path d="M0,-8 L13.860,-8 A16,16 0 0 0 -13.860,-8 L-6.930,4 Z" fill="#34a853" transform="rotate(240)"/><circle r="7.900" fill="#fff"/><circle r="6.200" fill="#1a73e8"/></svg>
<svg class="abs" style="left:263px;top:6px" width="30" height="31" viewBox="0 0 30 31"><defs><radialGradient id="ff1" cx="0.700" cy="0.150" r="1"><stop offset="0" stop-color="#fff36b"/><stop offset="0.300" stop-color="#ffbd2f"/><stop offset="0.600" stop-color="#ff6a2a"/><stop offset="1" stop-color="#e31587"/></radialGradient><radialGradient id="ff2" cx="0.500" cy="0.300" r="0.700"><stop offset="0" stop-color="#a259ff"/><stop offset="1" stop-color="#5b2bd6"/></radialGradient></defs><path d="M19.500,0.500 C21,3.500 24,5 26,8.500 C28.500,9.500 30,14 29.300,18.500 C28.300,25.500 22.500,30.300 15.500,30.300 C7.500,30.300 1,24.500 1,16.500 C1,12.500 2.500,9.500 4.500,7 C5,8.500 5.500,9.500 6.500,10.500 C7.500,8 9,6.500 11.500,6 C13,8.500 16,8.500 17.500,7.500 C16.500,5 17.500,2.500 19.500,0.500 Z" fill="url(#ff1)"/><circle cx="15" cy="16.800" r="6.400" fill="url(#ff2)"/><path d="M4.500,12.500 C8,10.500 12.500,11 15.500,13.500 C12.500,13 9.500,14.500 8.500,17.500 C7,16 5.500,14.500 4.500,12.500 Z" fill="#ff9a1f"/></svg>
<svg class="abs" style="left:316.500px;top:8.500px" width="27" height="27" viewBox="0 0 27 27"><rect width="27" height="27" fill="#2b80bd"/><rect x="3.500" y="3.500" width="20" height="20" fill="none" stroke="#dcecf7" stroke-width="1.600"/><path d="M3.500,8.500 H6.500 L9.500,19 L11.500,9 L13.500,16.500 L15.500,7.500 L18,18 H23.500" fill="none" stroke="#fff" stroke-width="1.500" stroke-linejoin="round"/></svg>
<svg class="abs" style="left:368.500px;top:8.300px" width="27" height="27" viewBox="0 0 27 27"><defs><linearGradient id="kg" x1="0" y1="0" x2="1" y2="1"><stop offset="0" stop-color="#17b7ff"/><stop offset="1" stop-color="#2a74ff"/></linearGradient></defs><circle cx="13.500" cy="13.500" r="13.500" fill="url(#kg)"/><path d="M4.500,6 C9,4 13,4 16,3.500 C13.500,6 12,7.500 11.500,9 C15,8 19,6.500 23,6.500 C19,9 15.500,11 13.500,13 C17,14.500 20,16.500 22.500,19 C19.500,18.500 17,18 15.500,17.500 C16,20 16.500,22 17.500,24.500 C15,22.500 13,19.500 12,16 C10,17 8,17 6,16 C8,14 9,12 9.500,9.500 C8,8 6.500,7 4.500,6 Z" fill="#e6e9ee"/></svg>
<svg class="abs" style="left:1470px;top:13px" width="18" height="18" viewBox="0 0 18 18"><g fill="none" stroke="#eff0f1" stroke-width="1.150"><path d="M9,1.600 C6.400,1.600 5.400,4 5.400,6.700 C5.400,10.400 4,11.500 2.700,12.600 H15.300 C14,11.500 12.600,10.400 12.600,6.700 C12.600,4 11.600,1.600 9,1.600 Z"/><path d="M4.300,1.300 C3,2.600 2.600,4.200 2.900,5.800 M2.500,0.500 C0.900,2.300 0.600,4.400 1.100,6.300 M13.700,1.300 C15,2.600 15.400,4.200 15.100,5.800 M15.500,0.500 C17.100,2.300 17.400,4.400 16.900,6.300" stroke-width="0.850"/></g><path d="M7,14.400 H11 A2,2.100 0 0 1 7,14.400 Z" fill="#eff0f1"/></svg>
<svg class="abs" style="left:1500px;top:13px" width="18" height="18" viewBox="0 0 18 18"><circle cx="9" cy="9" r="7.600" fill="none" stroke="#eff0f1" stroke-width="1.100"/><path d="M9,4 L13,8.500 H10.800 V13 H7.200 V8.500 H5 Z" fill="#eff0f1"/><circle cx="14" cy="14.500" r="3" fill="#3daee9"/></svg>
<svg class="abs" style="left:1530px;top:13px" width="18" height="18" viewBox="0 0 18 18"><circle cx="8.800" cy="9" r="7.600" fill="none" stroke="#eff0f1" stroke-width="1.100"/><path d="M6.800,5.800 L12.300,9 L6.800,12.200 Z" fill="#eff0f1"/></svg>
<svg class="abs" style="left:1560px;top:13px" width="19" height="18" viewBox="0 0 19 18"><rect x="0.550" y="6" width="17.400" height="10.500" fill="none" stroke="#eff0f1" stroke-width="1.100"/><path d="M11.500,0.500 V2.500 Q11.500,4 10,4 Q8.800,4 8.800,6" fill="none" stroke="#eff0f1" stroke-width="1"/><g fill="#eff0f1"><rect x="2.300" y="8" width="1.700" height="1.500"/><rect x="5" y="8" width="1.700" height="1.500"/><rect x="7.700" y="8" width="1.700" height="1.500"/><rect x="10.400" y="8" width="1.700" height="1.500"/><rect x="13.100" y="8" width="3" height="1.500"/><rect x="2.300" y="10.500" width="1.700" height="1.500"/><rect x="5" y="10.500" width="1.700" height="1.500"/><rect x="7.700" y="10.500" width="1.700" height="1.500"/><rect x="10.400" y="10.500" width="1.700" height="1.500"/><rect x="13.100" y="10.500" width="3" height="1.500"/><rect x="2.300" y="13" width="1.700" height="1.500"/><rect x="5" y="13" width="7.100" height="1.500"/><rect x="13.100" y="13" width="3" height="1.500"/></g></svg>
<svg class="abs" style="left:1592px;top:13px" width="15" height="18" viewBox="0 0 15 18"><rect x="0.550" y="2.600" width="13" height="14" fill="none" stroke="#eff0f1" stroke-width="1.100"/><rect x="2.500" y="0.300" width="9.100" height="3.500" fill="#eff0f1"/><path d="M3.200,7.500 H11 M3.200,10.300 H9 M3.200,13 H6.500" stroke="#eff0f1" stroke-width="1.100"/></svg>
<svg class="abs" style="left:1619px;top:15px" width="21" height="13" viewBox="0 0 21 13"><rect x="0.700" y="0.950" width="17.700" height="10.700" fill="none" stroke="#eff0f1" stroke-width="1.400"/><rect x="18.700" y="4" width="1.600" height="4.600" fill="#eff0f1"/><rect x="2.300" y="2.600" width="12" height="7.400" fill="#eff0f1"/></svg>
<svg class="abs" style="left:1653px;top:13px" width="12" height="18" viewBox="0 0 12 18"><path d="M1.300,5 L10,12.800 L5.800,16.700 V1 L10,5 L1.300,12.800" fill="none" stroke="#eff0f1" stroke-width="1.100"/></svg>
<svg class="abs" style="left:1680px;top:13px" width="18" height="18" viewBox="0 0 18 18"><rect x="1.300" y="1.500" width="15.300" height="11.100" fill="none" stroke="#eff0f1" stroke-width="1.800"/><path d="M10.500,3 H15 V7.500 Z M3,6.500 L7.500,11 H3 Z" fill="#eff0f1"/><rect x="7" y="13" width="4" height="2.500" fill="#eff0f1"/><rect x="4" y="15.300" width="10" height="1.300" fill="#eff0f1"/></svg>
<svg class="abs" style="left:1708px;top:13px" width="22" height="18" viewBox="0 0 22 18"><g fill="none" stroke-linecap="butt"><path d="M0.800,6.500 C6.500,0.300 15.500,0.300 21.200,6.500" stroke="#7d8087" stroke-width="1.100"/><path d="M3.800,9.300 C8,5 14,5 18.200,9.300" stroke="#a6a8ad" stroke-width="1.100"/><path d="M6.800,12 C9.300,9.500 12.700,9.500 15.200,12" stroke="#eff0f1" stroke-width="1.200"/><circle cx="11" cy="14.800" r="1.500" stroke="#eff0f1" stroke-width="1.100"/></g></svg>
<svg class="abs" style="left:1740px;top:13px" width="18" height="18" viewBox="0 0 18 18"><path d="M1,6 H3.500 L8.300,1.500 V16.500 L3.500,12 H1 Z" fill="#eff0f1"/><path d="M10.500,5.500 C12.300,7.500 12.300,10.500 10.500,12.500 M12.700,3.300 C15.700,6.500 15.700,11.500 12.700,14.700" fill="none" stroke="#8a8d93" stroke-width="1"/><path d="M1.200,1.300 L16.800,17" stroke="#da4453" stroke-width="1.200"/></svg>
<svg class="abs" style="left:1770px;top:18px" width="14" height="9" viewBox="0 0 14 9"><path d="M1,7.500 L7,1.500 L13,7.500" fill="none" stroke="#eff0f1" stroke-width="1.100"/></svg>
<div class="ui" style="position:absolute;left:1780px;top:7.800px;width:98px;text-align:center;color:#eff0f1;font-size:16px;line-height:18px;letter-spacing:-0.850px">10 h 08</div>
<div class="ui" style="position:absolute;left:1780.300px;top:23.600px;width:98px;text-align:center;color:#eff0f1;font-size:12px;line-height:14px;letter-spacing:-0.330px">2025-10-21</div>
<svg class="abs" style="left:1885px;top:13px" width="18" height="18" viewBox="0 0 18 18"><rect x="1.500" y="1.500" width="15" height="15" fill="none" stroke="#eff0f1" stroke-width="1"/><rect x="2.500" y="13.500" width="13" height="1.200" fill="#eff0f1"/></svg>
</div>
<!--TASKBAR-END-->
</body>
</html>
